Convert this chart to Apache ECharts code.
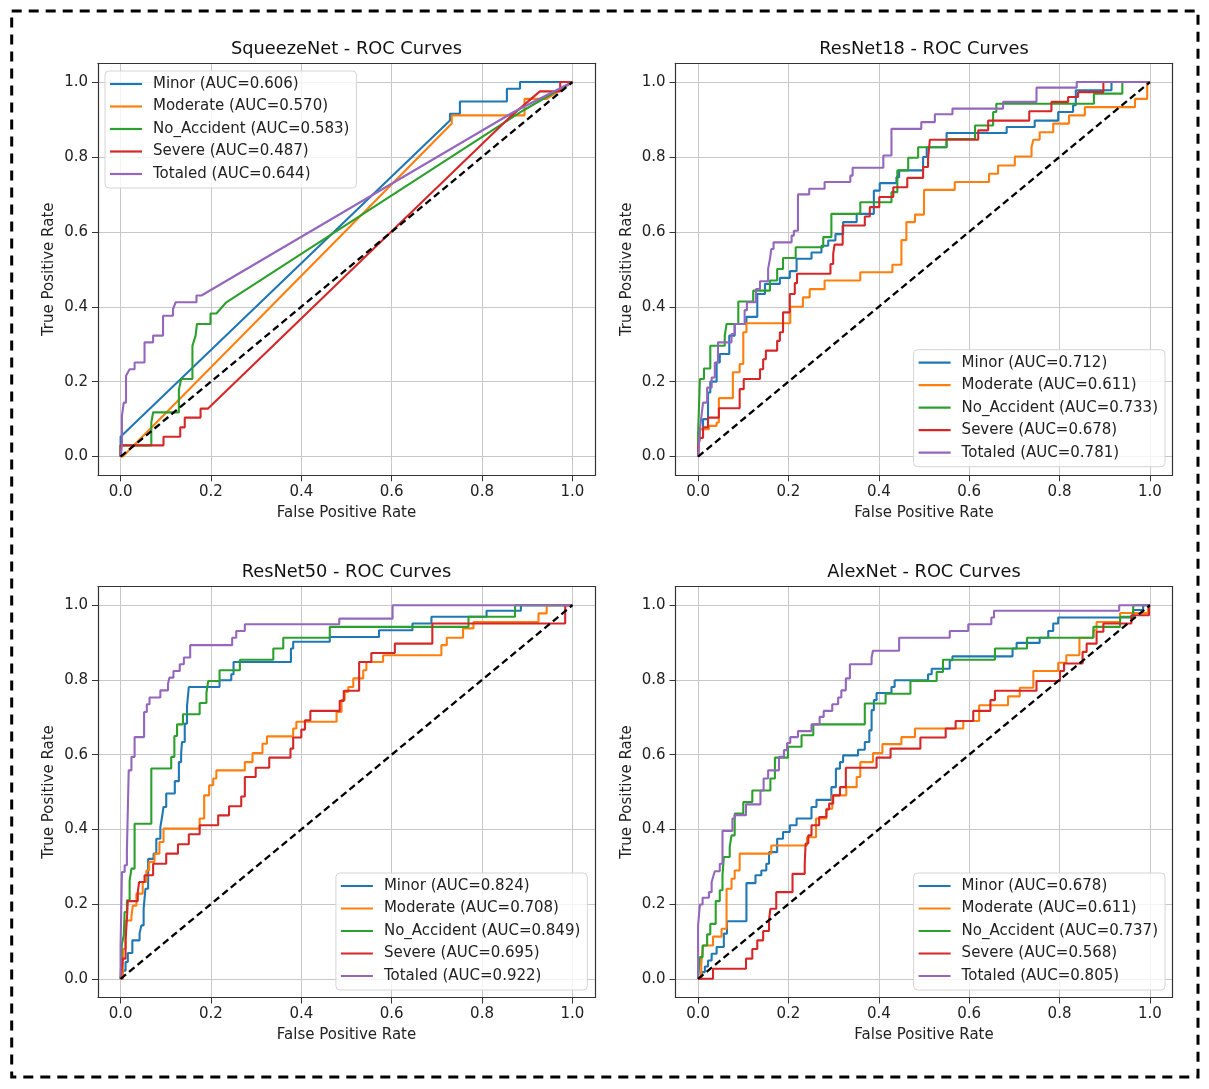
<!DOCTYPE html>
<html><head><meta charset="utf-8">
<script src="https://cdn.jsdelivr.net/npm/echarts@6/dist/echarts.min.js"></script>
<style>html,body{margin:0;padding:0;background:#fff}#c{width:1209px;height:1089px}</style>
</head><body><div id="c"></div>
<script>
// ---------- data ----------
const tickValues = [0, 0.2, 0.4, 0.6, 0.8, 1.0];
const panelTitles = ['SqueezeNet - ROC Curves', 'ResNet18 - ROC Curves', 'ResNet50 - ROC Curves', 'AlexNet - ROC Curves'];
const classNames = ['Minor', 'Moderate', 'No_Accident', 'Severe', 'Totaled'];
const aucSqueezeNet = [0.606, 0.570, 0.583, 0.487, 0.644];
const aucResNet18 = [0.712, 0.611, 0.733, 0.678, 0.781];
const aucResNet50 = [0.824, 0.708, 0.849, 0.695, 0.922];
const aucAlexNet = [0.678, 0.611, 0.737, 0.568, 0.805];
const diagonal = [[0, 0], [1, 1]];

// SqueezeNet: explicit ROC polyline points [fpr, tpr]
const sqMinor = [[0,0],[0,0.053],[0.729,0.897],[0.729,0.915],[0.751,0.915],[0.751,0.948],[0.855,0.948],[0.855,0.982],[0.884,0.982],[0.884,1],[1,1]];
const sqModerate = [[0,0],[0.005,0],[0.733,0.889],[0.733,0.911],[0.894,0.911],[0.894,0.955],[0.943,0.955],[1,1]];
const sqNoAccident = [[0,0],[0,0.03],[0.068,0.03],[0.068,0.091],[0.072,0.118],[0.129,0.118],[0.129,0.178],[0.134,0.207],[0.159,0.207],[0.159,0.296],[0.166,0.323],[0.169,0.354],[0.199,0.354],[0.199,0.382],[0.212,0.382],[0.234,0.412],[0.891,0.924],[1,1]];
const sqSevere = [[0,0],[0,0.03],[0.095,0.03],[0.095,0.053],[0.132,0.053],[0.132,0.078],[0.142,0.078],[0.142,0.104],[0.177,0.104],[0.177,0.128],[0.193,0.128],[0.866,0.911],[0.928,0.975],[0.973,0.975],[0.973,1],[1,1]];
const sqTotaled = [[0,0],[0.003,0.03],[0.003,0.109],[0.007,0.109],[0.007,0.144],[0.012,0.144],[0.012,0.216],[0.02,0.233],[0.031,0.233],[0.031,0.251],[0.053,0.251],[0.053,0.305],[0.072,0.305],[0.072,0.323],[0.094,0.323],[0.094,0.376],[0.116,0.376],[0.116,0.394],[0.122,0.412],[0.168,0.412],[0.168,0.43],[0.179,0.43],[0.87,0.92],[1,1]];

// Other models: ROC staircase corners [fpr, tpr] (horizontal to fpr, then vertical to tpr), starting at (0,0)
const r18Minor = [[0.004,0.073],[0.011,0.1],[0.022,0.171],[0.027,0.2],[0.041,0.251],[0.048,0.274],[0.069,0.323],[0.081,0.354],[0.107,0.373],[0.131,0.434],[0.148,0.461],[0.181,0.477],[0.203,0.495],[0.218,0.528],[0.251,0.545],[0.273,0.563],[0.288,0.577],[0.304,0.594],[0.321,0.626],[0.351,0.648],[0.389,0.71],[0.402,0.73],[0.439,0.746],[0.445,0.764],[0.498,0.8],[0.506,0.826],[0.55,0.864],[0.683,0.88],[0.745,0.897],[0.797,0.92],[0.83,0.938],[0.836,0.978],[0.915,1],[1,1]];
const r18Moderate = [[0.004,0.073],[0.024,0.082],[0.041,0.091],[0.046,0.156],[0.077,0.225],[0.092,0.247],[0.1,0.332],[0.107,0.356],[0.204,0.4],[0.232,0.425],[0.247,0.447],[0.28,0.47],[0.359,0.492],[0.43,0.512],[0.45,0.578],[0.461,0.626],[0.48,0.646],[0.5,0.712],[0.568,0.733],[0.644,0.755],[0.664,0.777],[0.701,0.801],[0.738,0.826],[0.742,0.846],[0.756,0.866],[0.786,0.889],[0.821,0.911],[0.856,0.933],[0.967,0.955],[0.994,1],[1,1]];
const r18NoAccident = [[0,0.06],[0.004,0.207],[0.013,0.235],[0.027,0.296],[0.059,0.323],[0.063,0.354],[0.089,0.414],[0.122,0.443],[0.159,0.47],[0.175,0.501],[0.188,0.53],[0.216,0.559],[0.277,0.586],[0.295,0.648],[0.359,0.679],[0.428,0.706],[0.441,0.764],[0.465,0.798],[0.487,0.826],[0.55,0.848],[0.613,0.884],[0.653,0.92],[0.66,0.942],[0.876,0.969],[0.939,1],[1,1]];
const r18Severe = [[0,0.029],[0.004,0.05],[0.011,0.078],[0.022,0.104],[0.046,0.129],[0.092,0.18],[0.101,0.207],[0.137,0.233],[0.144,0.26],[0.15,0.283],[0.175,0.309],[0.181,0.332],[0.188,0.385],[0.203,0.434],[0.214,0.463],[0.219,0.488],[0.293,0.514],[0.299,0.541],[0.302,0.566],[0.32,0.617],[0.369,0.641],[0.38,0.666],[0.401,0.693],[0.432,0.719],[0.463,0.744],[0.498,0.773],[0.509,0.795],[0.513,0.846],[0.62,0.871],[0.642,0.897],[0.733,0.922],[0.782,0.947],[0.819,0.96],[0.841,0.973],[0.897,1],[1,1]];
const r18Totaled = [[0.004,0.073],[0.007,0.104],[0.011,0.144],[0.02,0.184],[0.03,0.211],[0.037,0.251],[0.044,0.305],[0.074,0.327],[0.081,0.354],[0.103,0.391],[0.108,0.412],[0.128,0.447],[0.137,0.468],[0.155,0.501],[0.159,0.528],[0.162,0.554],[0.167,0.572],[0.207,0.59],[0.212,0.603],[0.221,0.7],[0.246,0.715],[0.28,0.733],[0.337,0.75],[0.342,0.771],[0.41,0.804],[0.428,0.875],[0.494,0.893],[0.524,0.914],[0.563,0.929],[0.675,0.947],[0.749,0.985],[0.838,1],[1,1]];

const r50Minor = [[0.005,0.022],[0.011,0.045],[0.016,0.069],[0.026,0.103],[0.042,0.121],[0.046,0.143],[0.051,0.188],[0.055,0.241],[0.061,0.321],[0.073,0.335],[0.079,0.375],[0.088,0.406],[0.092,0.435],[0.095,0.46],[0.101,0.496],[0.12,0.529],[0.129,0.58],[0.134,0.604],[0.136,0.634],[0.142,0.683],[0.147,0.729],[0.151,0.781],[0.219,0.799],[0.245,0.815],[0.25,0.848],[0.377,0.884],[0.382,0.902],[0.463,0.915],[0.572,0.933],[0.646,0.951],[0.688,0.969],[0.81,0.985],[0.886,1],[1,1]];
const r50Moderate = [[0.005,0.08],[0.011,0.156],[0.024,0.167],[0.027,0.196],[0.035,0.228],[0.049,0.259],[0.057,0.29],[0.063,0.313],[0.075,0.335],[0.086,0.366],[0.095,0.402],[0.175,0.429],[0.185,0.491],[0.196,0.518],[0.205,0.536],[0.212,0.558],[0.275,0.58],[0.292,0.604],[0.314,0.629],[0.324,0.649],[0.382,0.67],[0.389,0.688],[0.478,0.714],[0.489,0.746],[0.496,0.768],[0.504,0.781],[0.515,0.804],[0.537,0.826],[0.544,0.848],[0.581,0.866],[0.71,0.893],[0.722,0.913],[0.758,0.938],[0.781,0.955],[0.925,0.978],[0.943,1],[1,1]];
const r50NoAccident = [[0.003,0.094],[0.007,0.116],[0.009,0.179],[0.014,0.21],[0.02,0.263],[0.024,0.295],[0.031,0.415],[0.068,0.563],[0.112,0.594],[0.119,0.65],[0.125,0.681],[0.138,0.708],[0.175,0.738],[0.19,0.765],[0.194,0.797],[0.219,0.826],[0.264,0.854],[0.338,0.884],[0.36,0.913],[0.463,0.942],[0.77,0.969],[0.873,1],[1,1]];
const r50Severe = [[0.003,0.029],[0.005,0.054],[0.011,0.103],[0.014,0.16],[0.016,0.208],[0.038,0.232],[0.041,0.259],[0.053,0.277],[0.072,0.308],[0.101,0.335],[0.127,0.36],[0.151,0.387],[0.175,0.411],[0.216,0.4375],[0.24,0.462],[0.267,0.488],[0.275,0.54],[0.299,0.565],[0.329,0.592],[0.376,0.616],[0.382,0.646],[0.4,0.667],[0.408,0.692],[0.42,0.717],[0.485,0.744],[0.494,0.771],[0.528,0.848],[0.555,0.872],[0.607,0.897],[0.69,0.951],[0.984,1],[1,1]];
const r50Totaled = [[0,0.089],[0.003,0.286],[0.009,0.304],[0.014,0.344],[0.018,0.558],[0.024,0.594],[0.031,0.647],[0.052,0.714],[0.058,0.735],[0.064,0.753],[0.088,0.772],[0.105,0.79],[0.108,0.806],[0.117,0.824],[0.131,0.842],[0.14,0.86],[0.154,0.893],[0.247,0.913],[0.256,0.931],[0.275,0.949],[0.484,0.964],[0.602,1],[1,1]];

const alexMinor = [[0.007,0.018],[0.015,0.033],[0.022,0.049],[0.03,0.067],[0.041,0.085],[0.057,0.121],[0.064,0.154],[0.107,0.256],[0.127,0.277],[0.14,0.29],[0.151,0.308],[0.157,0.339],[0.175,0.375],[0.188,0.393],[0.203,0.411],[0.218,0.429],[0.251,0.46],[0.262,0.479],[0.295,0.513],[0.305,0.5625],[0.314,0.58],[0.321,0.598],[0.354,0.613],[0.369,0.634],[0.379,0.665],[0.384,0.719],[0.389,0.746],[0.395,0.765],[0.428,0.781],[0.435,0.799],[0.509,0.815],[0.517,0.83],[0.557,0.853],[0.563,0.863],[0.696,0.884],[0.705,0.899],[0.756,0.913],[0.775,0.931],[0.786,0.951],[0.797,0.967],[0.963,0.987],[0.985,1],[1,1]];
const alexModerate = [[0.007,0.04],[0.011,0.089],[0.033,0.113],[0.052,0.134],[0.063,0.241],[0.074,0.268],[0.081,0.29],[0.092,0.335],[0.162,0.357],[0.241,0.379],[0.261,0.429],[0.284,0.455],[0.297,0.491],[0.328,0.513],[0.351,0.54],[0.359,0.58],[0.387,0.604],[0.408,0.628],[0.45,0.647],[0.48,0.67],[0.587,0.69],[0.622,0.732],[0.686,0.756],[0.712,0.779],[0.742,0.824],[0.797,0.846],[0.815,0.866],[0.844,0.913],[0.875,0.933],[0.882,0.955],[0.934,0.979],[0.996,1],[1,1]];
const alexNoAccident = [[0.004,0.058],[0.01,0.089],[0.02,0.119],[0.027,0.147],[0.039,0.208],[0.048,0.237],[0.054,0.277],[0.057,0.326],[0.07,0.353],[0.074,0.384],[0.081,0.442],[0.1,0.473],[0.12,0.504],[0.16,0.536],[0.17,0.592],[0.199,0.621],[0.229,0.652],[0.255,0.681],[0.369,0.737],[0.415,0.763],[0.47,0.797],[0.528,0.821],[0.542,0.854],[0.657,0.884],[0.728,0.913],[0.875,0.942],[0.934,0.969],[0.963,1],[1,1]];
const alexSevere = [[0.033,0.027],[0.106,0.054],[0.12,0.08],[0.131,0.103],[0.144,0.128],[0.157,0.158],[0.16,0.1875],[0.173,0.232],[0.209,0.281],[0.236,0.308],[0.238,0.362],[0.244,0.384],[0.251,0.411],[0.268,0.433],[0.284,0.453],[0.29,0.469],[0.299,0.491],[0.314,0.513],[0.327,0.565],[0.395,0.592],[0.426,0.616],[0.492,0.646],[0.548,0.67],[0.57,0.69],[0.609,0.717],[0.647,0.746],[0.657,0.771],[0.749,0.797],[0.801,0.824],[0.81,0.844],[0.851,0.875],[0.86,0.897],[0.882,0.929],[0.897,0.951],[0.959,0.973],[0.998,1],[1,1]];
const alexTotaled = [[0,0.143],[0.004,0.199],[0.01,0.217],[0.024,0.232],[0.03,0.259],[0.033,0.272],[0.037,0.288],[0.048,0.308],[0.054,0.396],[0.076,0.429],[0.081,0.438],[0.106,0.467],[0.138,0.504],[0.145,0.536],[0.155,0.558],[0.179,0.594],[0.19,0.612],[0.197,0.631],[0.204,0.647],[0.221,0.663],[0.251,0.681],[0.269,0.701],[0.278,0.717],[0.297,0.735],[0.31,0.753],[0.317,0.772],[0.327,0.804],[0.336,0.842],[0.384,0.86],[0.387,0.878],[0.445,0.913],[0.557,0.931],[0.598,0.949],[0.649,0.967],[0.655,0.985],[0.932,1],[1,1]];

// ---------- build ----------
function stairs(corners) {
  const pts = [[0, 0]];
  let py = 0;
  for (const [x, y] of corners) { pts.push([x, py]); pts.push([x, y]); py = y; }
  return pts;
}
const panels = [
  { auc: aucSqueezeNet, curves: [sqMinor, sqModerate, sqNoAccident, sqSevere, sqTotaled] },
  { auc: aucResNet18, curves: [r18Minor, r18Moderate, r18NoAccident, r18Severe, r18Totaled].map(stairs) },
  { auc: aucResNet50, curves: [r50Minor, r50Moderate, r50NoAccident, r50Severe, r50Totaled].map(stairs) },
  { auc: aucAlexNet, curves: [alexMinor, alexModerate, alexNoAccident, alexSevere, alexTotaled].map(stairs) }
];
const colors = ['#1f77b4', '#ff7f0e', '#2ca02c', '#d62728', '#9467bd'];
const FONT = 'DejaVu Sans';
const FS = 15;
const gridBoxes = [
  { left: 98, top: 63.3, width: 497, height: 412 },
  { left: 675.5, top: 63.3, width: 497, height: 412 },
  { left: 98, top: 586.5, width: 497, height: 411 },
  { left: 675.5, top: 586.5, width: 497, height: 411 }
];
const legendPos = [
  { left: 105, top: 71 },
  { right: 44, bottom: 622.3 },
  { right: 621.7, bottom: 99 },
  { right: 44, bottom: 99 }
];
const frameLine = { show: true, onZero: false, lineStyle: { color: '#333', width: 1.2 } };
const gridLine = { show: true, lineStyle: { color: '#c8c8c8', width: 1 } };

const grid = [], xAxis = [], yAxis = [], series = [], legend = [];
panels.forEach((p, i) => {
  grid.push(Object.assign({ containLabel: false }, gridBoxes[i]));
  xAxis.push({
    type: 'value', gridIndex: i, min: -0.05, max: 1.05, position: 'bottom',
    axisLine: frameLine,
    axisTick: { show: true, length: 6, inside: false, customValues: tickValues, lineStyle: { color: '#333', width: 1 } },
    axisLabel: { show: true, customValues: tickValues, margin: 9, fontSize: FS, color: '#222', fontFamily: FONT, formatter: v => v.toFixed(1) },
    splitLine: gridLine,
    name: 'False Positive Rate', nameLocation: 'middle', nameGap: 30.5,
    nameTextStyle: { fontSize: FS, color: '#222', fontFamily: FONT }
  });
  xAxis.push({
    type: 'value', gridIndex: i, min: -0.05, max: 1.05, position: 'top',
    axisLine: frameLine, axisTick: { show: false }, axisLabel: { show: false }, splitLine: { show: false },
    name: panelTitles[i], nameLocation: 'middle', nameGap: 5,
    nameTextStyle: { fontSize: 17.8, color: '#111', fontFamily: FONT }
  });
  yAxis.push({
    type: 'value', gridIndex: i, min: -0.05, max: 1.05, position: 'left',
    axisLine: frameLine,
    axisTick: { show: true, length: 6, inside: false, customValues: tickValues, lineStyle: { color: '#333', width: 1 } },
    axisLabel: { show: true, customValues: tickValues, margin: 10, fontSize: FS, color: '#222', fontFamily: FONT, formatter: v => v.toFixed(1) },
    splitLine: gridLine,
    name: 'True Positive Rate', nameLocation: 'middle', nameGap: 41,
    nameTextStyle: { fontSize: FS, color: '#222', fontFamily: FONT }
  });
  yAxis.push({
    type: 'value', gridIndex: i, min: -0.05, max: 1.05, position: 'right',
    axisLine: frameLine, axisTick: { show: false }, axisLabel: { show: false }, splitLine: { show: false }
  });
  const names = [];
  p.curves.forEach((data, k) => {
    const name = classNames[k] + ' (AUC=' + p.auc[k].toFixed(3) + ')';
    names.push(name);
    series.push({
      type: 'line', name, data, xAxisIndex: 2 * i, yAxisIndex: 2 * i,
      symbol: 'none', showSymbol: false, silent: true, animation: false,
      color: colors[k], itemStyle: { color: colors[k] },
      lineStyle: { color: colors[k], width: 2.1 }, z: 3
    });
  });
  series.push({
    type: 'line', name: 'diag' + i, data: diagonal, xAxisIndex: 2 * i, yAxisIndex: 2 * i,
    symbol: 'none', silent: true, animation: false,
    lineStyle: { color: '#000', width: 2.3, type: [7, 4] }, itemStyle: { color: '#000' }, z: 4
  });
  legend.push(Object.assign({
    orient: 'vertical', data: names, selectedMode: false,
    icon: 'rect', itemWidth: 32, itemHeight: 2.2, itemGap: 6.5,
    padding: [5, 7, 6, 5],
    backgroundColor: 'rgba(255,255,255,0.8)', borderColor: '#d4d4d4', borderWidth: 1, borderRadius: 4,
    textStyle: { fontSize: FS, color: '#222', fontFamily: FONT, lineHeight: 16, padding: [0, 0, 0, 6] },
    z: 10
  }, legendPos[i]));
});

const chart = echarts.init(document.getElementById('c'), null, { renderer: 'canvas' });
chart.setOption({
  backgroundColor: '#fff',
  animation: false,
  textStyle: { fontFamily: FONT },
  grid, xAxis, yAxis, series, legend,
  graphic: [{
    type: 'rect', silent: true, z: 100,
    shape: { x: 11.7, y: 11, width: 1186.3, height: 1066 },
    style: { fill: 'none', stroke: '#000', lineWidth: 3, lineDash: [10, 7] }
  }]
});
</script></body></html>
